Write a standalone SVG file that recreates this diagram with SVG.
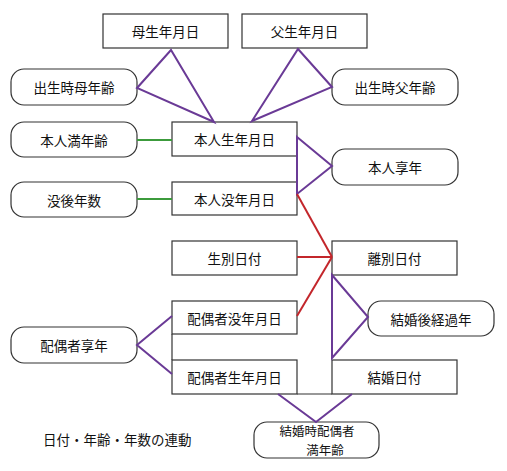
<svg xmlns="http://www.w3.org/2000/svg" width="507" height="471" viewBox="0 0 507 471">
<style>
.box{fill:#fff;stroke:#333;stroke-width:1.2}
.t{font-family:"Noto Sans CJK JP","Noto Sans CJK SC",sans-serif;font-size:13.5px;fill:#111;text-anchor:middle;dominant-baseline:central}
.s{font-size:12.5px}
.p{fill:none;stroke:#6a3a96;stroke-width:2;stroke-linejoin:miter}
.g{fill:none;stroke:#3c9b3c;stroke-width:2}
.r{fill:none;stroke:#c3262b;stroke-width:2}
.k{fill:none;stroke:#333;stroke-width:1.2}
</style>
<rect width="507" height="471" fill="#fff"/>
<g id="nodes">
<g id="mother_dob"><rect class="box" x="103" y="14" width="125" height="34"/><text class="t" x="165.5" y="31">母生年月日</text></g>
<g id="father_dob"><rect class="box" x="242" y="14" width="125" height="34"/><text class="t" x="304.5" y="31">父生年月日</text></g>
<g id="mother_age"><rect class="box" x="11" y="69" width="126" height="36" rx="13"/><text class="t" x="74" y="87">出生時母年齢</text></g>
<g id="father_age"><rect class="box" x="332" y="69" width="126" height="36" rx="13"/><text class="t" x="395" y="87">出生時父年齢</text></g>
<g id="self_age"><rect class="box" x="11" y="122" width="126" height="35" rx="13"/><text class="t" x="74" y="139.5">本人満年齢</text></g>
<g id="self_dob"><rect class="box" x="172" y="122" width="125" height="34"/><text class="t" x="234.5" y="139">本人生年月日</text></g>
<g id="self_dod"><rect class="box" x="172" y="182" width="125" height="33"/><text class="t" x="234.5" y="198.5">本人没年月日</text></g>
<g id="years_after"><rect class="box" x="11" y="182" width="126" height="35" rx="13"/><text class="t" x="74" y="199.5">没後年数</text></g>
<g id="self_kyonen"><rect class="box" x="332" y="149" width="126" height="36" rx="13"/><text class="t" x="395" y="167">本人享年</text></g>
<g id="seibetsu"><rect class="box" x="172" y="241" width="125" height="34"/><text class="t" x="234.5" y="258">生別日付</text></g>
<g id="ribetsu"><rect class="box" x="332" y="241" width="125" height="34"/><text class="t" x="394.5" y="258">離別日付</text></g>
<g id="spouse_dod"><rect class="box" x="172" y="301" width="125" height="33"/><text class="t" x="234.5" y="317.5">配偶者没年月日</text></g>
<g id="spouse_dob"><rect class="box" x="172" y="360" width="125" height="34"/><text class="t" x="234.5" y="377">配偶者生年月日</text></g>
<g id="marriage_years"><rect class="box" x="368" y="301" width="126" height="35" rx="13"/><text class="t" x="431" y="318.5">結婚後経過年</text></g>
<g id="marriage_date"><rect class="box" x="332" y="360" width="125" height="34"/><text class="t" x="394.5" y="377">結婚日付</text></g>
<g id="spouse_kyonen"><rect class="box" x="11" y="327" width="126" height="36" rx="13"/><text class="t" x="74" y="345">配偶者享年</text></g>
<g id="spouse_marriage_age"><rect class="box" x="254" y="422" width="125" height="36" rx="13"/><text class="t s" x="317" y="430.5">結婚時配偶者</text><text class="t s" x="325" y="449.5">満年齢</text></g>
<g id="caption"><text class="t" x="43" y="439" style="text-anchor:start">日付・年齢・年数の連動</text></g>
</g>
<g id="connectors">
<polygon class="p" points="171,50 137,88 214,122"/>
<polygon class="p" points="298,49 332,87 252,121"/>
<polygon class="p" points="297,137 332,166 297,194"/>
<line class="g" x1="137" y1="140" x2="172" y2="140"/>
<line class="g" x1="137" y1="199" x2="172" y2="199"/>
<line class="r" x1="297" y1="194" x2="332" y2="257"/>
<line class="r" x1="297" y1="257" x2="332" y2="257"/>
<line class="r" x1="297" y1="316" x2="332" y2="257"/>
<polygon class="p" points="332,275 368,317 332,358"/>
<polyline class="p" points="172,316 137,345 172,374"/>
<line class="k" x1="172" y1="334" x2="172" y2="360"/>
<polyline class="p" points="278,394 316,422 352,394"/>
<line class="k" x1="297" y1="394" x2="332" y2="394"/>
</g>
</svg>
